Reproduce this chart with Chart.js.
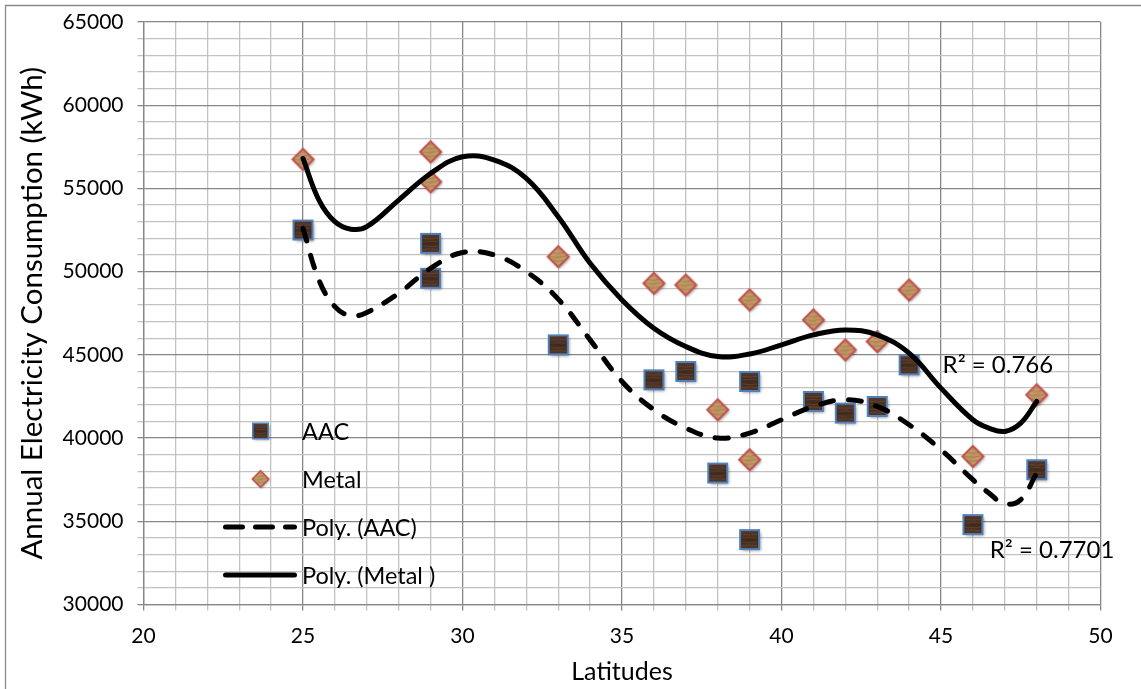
<!DOCTYPE html>
<html>
<head>
<meta charset="utf-8">
<script src="https://cdn.jsdelivr.net/npm/chart.js@4.4.1/dist/chart.umd.min.js"></script>
<style>
  html, body { margin: 0; padding: 0; background: #ffffff; }
  #wrap { width: 1141px; height: 689px; position: relative; }
</style>
</head>
<body>
<div id="wrap"><canvas id="chart" width="1141" height="689"></canvas></div>
<script>
// Measured points: latitude (degrees) and annual consumption (kWh)
const latitudesAAC = [25, 29, 29, 33, 36, 37, 38, 39, 39, 41, 42, 43, 44, 46, 48];
const aacValues    = [52500, 51700, 49600, 45600, 43500, 44000, 37900, 43400, 33900, 42200, 41500, 41900, 44400, 34800, 38100];

const latitudesMetal = [25, 29, 29, 33, 36, 37, 38, 39, 39, 41, 42, 43, 44, 46, 48];
const metalValues    = [56750, 57200, 55400, 50900, 49300, 49200, 41700, 48300, 38700, 47100, 45300, 45800, 48900, 38900, 42600];

// Polynomial trend curves, sampled along latitude
const trendLatitudes = [25, 25.5, 26, 26.5, 27, 28, 29, 30, 31, 32, 33, 34, 35, 36, 37, 38, 39, 40, 41, 42, 43, 44, 45, 46, 46.5, 47, 47.5, 48];
const trendAAC   = [52600, 49500, 47900, 47350, 47550, 48700, 50200, 51150, 51000, 50000, 48350, 45900, 43400, 41700, 40600, 40000, 40300, 41100, 41900, 42300, 41900, 40800, 39300, 37500, 36700, 36050, 36300, 37900];
const trendMetal = [56800, 54300, 53000, 52550, 52700, 54300, 55900, 56900, 56700, 55600, 53300, 50500, 48300, 46600, 45500, 44900, 45050, 45600, 46200, 46500, 46200, 45100, 43000, 41100, 40600, 40400, 40900, 42200];

// Axis ranges and labels
const xMin = 20, xMax = 50, xStep = 1, xLabelEvery = 5;
const yMin = 30000, yMax = 65000, yStep = 1000, yLabelEvery = 5000;
const xTitle = 'Latitudes';
const yTitle = 'Annual Electricity Consumption (kWh)';
const legendLabels = ['AAC', 'Metal', 'Poly. (AAC)', 'Poly. (Metal )'];
const r2Metal = 'R\u00B2 = 0.766';
const r2AAC = 'R\u00B2 = 0.7701';

const FONT = 'Lato, "Open Sans", sans-serif';
const GRID_MAJOR = '#878787';
const GRID_MINOR = '#c2c2c2';

function toPoints(xs, ys) { return xs.map((x, i) => ({ x: x, y: ys[i] })); }

// Textured square marker (dark wood with blue outline)
function makeSquareMarker(size) {
  const pad = 5, S = size + pad * 2;
  const c = document.createElement('canvas');
  c.width = S; c.height = S;
  const g = c.getContext('2d');
  g.save();
  g.shadowColor = 'rgba(0,0,0,0.45)';
  g.shadowBlur = 3; g.shadowOffsetX = 1.5; g.shadowOffsetY = 1.5;
  g.fillStyle = '#4a3122';
  g.fillRect(pad, pad, size, size);
  g.restore();
  const grd = g.createLinearGradient(0, pad, 0, pad + size);
  grd.addColorStop(0, '#58392a');
  grd.addColorStop(0.5, '#3f2a1d');
  grd.addColorStop(1, '#543626');
  g.fillStyle = grd;
  g.fillRect(pad, pad, size, size);
  g.strokeStyle = 'rgba(140,100,70,0.35)';
  g.lineWidth = 1;
  for (let k = 1; k < 5; k++) {
    const yy = pad + k * size / 5 + 0.5;
    g.beginPath();
    g.moveTo(pad + 2, yy);
    g.quadraticCurveTo(pad + size / 2, yy + (k % 2 ? 1.5 : -1.5), pad + size - 2, yy);
    g.stroke();
  }
  g.strokeStyle = '#4f81bd';
  g.lineWidth = 2;
  g.strokeRect(pad, pad, size, size);
  return c;
}

// Textured diamond marker (light wood with red outline)
function makeDiamondMarker(r) {
  const pad = 5, S = Math.ceil(r * 2 + pad * 2);
  const c = document.createElement('canvas');
  c.width = S; c.height = S;
  const g = c.getContext('2d');
  const cx = S / 2, cy = S / 2;
  const path = () => {
    g.beginPath();
    g.moveTo(cx, cy - r); g.lineTo(cx + r, cy); g.lineTo(cx, cy + r); g.lineTo(cx - r, cy);
    g.closePath();
  };
  g.save();
  g.shadowColor = 'rgba(0,0,0,0.4)';
  g.shadowBlur = 3; g.shadowOffsetX = 1.5; g.shadowOffsetY = 1.5;
  g.fillStyle = '#c59b69';
  path(); g.fill();
  g.restore();
  const grd = g.createLinearGradient(cx - r, cy - r, cx + r, cy + r);
  grd.addColorStop(0, '#d2ad7c');
  grd.addColorStop(0.5, '#bd935f');
  grd.addColorStop(1, '#cfa877');
  g.fillStyle = grd;
  path(); g.fill();
  g.save();
  path(); g.clip();
  g.strokeStyle = 'rgba(120,80,45,0.35)';
  g.lineWidth = 1;
  for (let k = -2; k <= 2; k++) {
    g.beginPath();
    g.moveTo(cx - r, cy + k * 4);
    g.quadraticCurveTo(cx, cy + k * 4 + 2, cx + r, cy + k * 4 - 1);
    g.stroke();
  }
  g.restore();
  g.strokeStyle = '#c0504d';
  g.lineWidth = 2;
  path(); g.stroke();
  return c;
}

const squareMarker = makeSquareMarker(19);
const diamondMarker = makeDiamondMarker(10.5);

const gridColor = (every) => (ctx) =>
  (ctx.tick && Math.abs(ctx.tick.value % every) < 1e-9) ? GRID_MAJOR : GRID_MINOR;

// Page background and outer frame
const framePlugin = {
  id: 'frame',
  beforeDraw(chart) {
    const ctx = chart.ctx;
    ctx.save();
    ctx.fillStyle = '#ffffff';
    ctx.fillRect(0, 0, chart.width, chart.height);
    ctx.strokeStyle = '#8a8a8a';
    ctx.lineWidth = 1.3;
    ctx.beginPath();
    ctx.moveTo(5.5, chart.height + 2);
    ctx.lineTo(5.5, 5.5);
    ctx.lineTo(chart.width + 2, 5.5);
    ctx.stroke();
    ctx.restore();
  }
};

// Legend inside the plot and R² labels for the trend curves
const overlayPlugin = {
  id: 'overlay',
  afterDatasetsDraw(chart) {
    const ctx = chart.ctx;
    const xs = chart.scales.x, ys = chart.scales.y;
    ctx.save();
    // legend
    const lx0 = 223, lx1 = 297, mx = 260.5, tx = 302;
    const rows = [431, 479, 527, 575];
    const sq = 17 / 21;
    ctx.drawImage(squareMarker, mx - squareMarker.width * sq / 2, rows[0] - squareMarker.height * sq / 2,
                  squareMarker.width * sq, squareMarker.height * sq);
    const dq = 18 / 23;
    ctx.drawImage(diamondMarker, mx - diamondMarker.width * dq / 2, rows[1] - diamondMarker.height * dq / 2,
                  diamondMarker.width * dq, diamondMarker.height * dq);
    ctx.strokeStyle = '#000000';
    ctx.lineWidth = 5;
    ctx.lineCap = 'round';
    ctx.setLineDash([17, 13]);
    ctx.beginPath(); ctx.moveTo(lx0 + 2.5, rows[2]); ctx.lineTo(lx1 - 2.5, rows[2]); ctx.stroke();
    ctx.setLineDash([]);
    ctx.beginPath(); ctx.moveTo(lx0 + 2.5, rows[3]); ctx.lineTo(lx1 - 2.5, rows[3]); ctx.stroke();
    ctx.fillStyle = '#000000';
    ctx.font = '23.5px ' + FONT;
    ctx.textBaseline = 'middle';
    ctx.textAlign = 'left';
    legendLabels.forEach((t, i) => ctx.fillText(t, tx, rows[i] + 1));
    // R² labels
    ctx.font = '24px ' + FONT;
    ctx.fillText(r2Metal, xs.getPixelForValue(45.05), ys.getPixelForValue(44400));
    ctx.fillText(r2AAC, xs.getPixelForValue(46.53), ys.getPixelForValue(33250));
    ctx.restore();
  }
};

new Chart(document.getElementById('chart'), {
  type: 'scatter',
  data: {
    datasets: [
      {
        label: legendLabels[2],
        data: toPoints(trendLatitudes, trendAAC),
        showLine: true,
        borderColor: '#000000',
        borderWidth: 5,
        borderDash: [13, 15],
        borderCapStyle: 'round',
        pointRadius: 0,
        tension: 0.4,
        fill: false,
        order: 0
      },
      {
        label: legendLabels[3],
        data: toPoints(trendLatitudes, trendMetal),
        showLine: true,
        borderColor: '#000000',
        borderWidth: 5,
        borderCapStyle: 'round',
        pointRadius: 0,
        tension: 0.4,
        fill: false,
        order: 0
      },
      {
        label: legendLabels[0],
        data: toPoints(latitudesAAC, aacValues),
        pointStyle: squareMarker,
        pointRadius: 11,
        order: 1
      },
      {
        label: legendLabels[1],
        data: toPoints(latitudesMetal, metalValues),
        pointStyle: diamondMarker,
        pointRadius: 11,
        order: 1
      }
    ]
  },
  options: {
    responsive: false,
    animation: false,
    devicePixelRatio: 1,
    layout: { padding: { left: 0, top: 22, right: 40.5, bottom: 0 } },
    plugins: {
      legend: { display: false },
      tooltip: { enabled: false }
    },
    scales: {
      x: {
        type: 'linear',
        min: xMin, max: xMax,
        afterFit(scale) {
          scale.height = 84.5;
          scale.paddingLeft = 0; scale.paddingRight = 0;
        },
        ticks: {
          stepSize: xStep,
          autoSkip: false,
          maxRotation: 0,
          padding: 13,
          color: '#000000',
          font: { family: FONT, size: 21 },
          callback: (v) => (v % xLabelEvery === 0 ? String(v) : '')
        },
        grid: {
          color: gridColor(xLabelEvery),
          lineWidth: 1.3,
          tickLength: 6,
          drawOnChartArea: true
        },
        border: { display: true, color: GRID_MAJOR, width: 1.3 },
        title: {
          display: true,
          text: xTitle,
          color: '#000000',
          font: { family: FONT, size: 25 },
          padding: { top: 0, bottom: 2 }
        }
      },
      y: {
        type: 'linear',
        min: yMin, max: yMax,
        afterFit(scale) {
          scale.width = 143.5;
          scale.paddingTop = 0; scale.paddingBottom = 0;
        },
        ticks: {
          stepSize: yStep,
          autoSkip: false,
          padding: 14,
          color: '#000000',
          font: { family: FONT, size: 21 },
          callback: (v) => (v % yLabelEvery === 0 ? String(v) : '')
        },
        grid: {
          color: gridColor(yLabelEvery),
          lineWidth: 1.3,
          tickLength: 6
        },
        border: { display: true, color: GRID_MAJOR, width: 1.3 },
        title: {
          display: true,
          text: yTitle,
          color: '#000000',
          font: { family: FONT, size: 29.5 },
          padding: { top: 15, bottom: 0 }
        }
      }
    }
  },
  plugins: [framePlugin, overlayPlugin]
});
</script>
</body>
</html>
